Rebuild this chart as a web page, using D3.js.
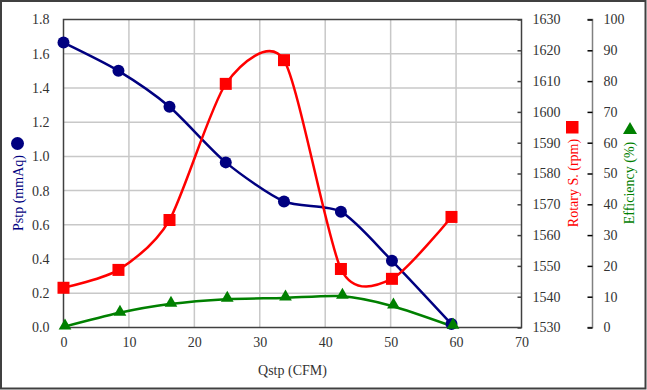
<!DOCTYPE html>
<html>
<head>
<meta charset="utf-8">
<script src="https://cdn.jsdelivr.net/npm/d3@7"></script>
<style>
  html, body { margin: 0; padding: 0; background: #fff; }
  svg { display: block; }
  text { font-family: "Liberation Serif", "DejaVu Serif", serif; }
</style>
</head>
<body>
<svg id="chart" width="647" height="390"></svg>
<script>
// ---- data ----
const qstp = [0, 8.4, 16.2, 24.8, 33.7, 42.4, 50.2, 59.3];
const pstp = [1.665, 1.50, 1.29, 0.965, 0.737, 0.677, 0.39, 0.02];
const rpm = [1542.9, 1548.7, 1564.9, 1609.1, 1616.8, 1549.0, 1545.8, 1565.9];
const eff = [0.2, 4.7, 7.6, 9.2, 9.6, 10.2, 7.0, 0.5];

const xTicks = [0, 10, 20, 30, 40, 50, 60, 70];
const pTicks = [0, 0.2, 0.4, 0.6, 0.8, 1.0, 1.2, 1.4, 1.6, 1.8];
const rTicks = [1530, 1540, 1550, 1560, 1570, 1580, 1590, 1600, 1610, 1620, 1630];
const eTicks = [0, 10, 20, 30, 40, 50, 60, 70, 80, 90, 100];

const W = 647, H = 390;
const L = 63.5, R = 521.5, T = 19.5, B = 327.5;
const axis2X = 592.5;
const FONT = "Liberation Serif";

const svg = d3.select("#chart");

// outer border
svg.append("rect").attr("x", 1).attr("y", 1).attr("width", W - 2.5).attr("height", H - 2.5)
  .attr("fill", "#fff").attr("stroke", "#404040").attr("stroke-width", 2);

const x = d3.scaleLinear().domain([0, 70]).range([L, R]);
const yP = d3.scaleLinear().domain([0, 1.8]).range([B, T]);
const yR = d3.scaleLinear().domain([1530, 1630]).range([B, T]);
const yE = d3.scaleLinear().domain([0, 100]).range([B, T]);

const fontSize = 14;

// gridlines
const grid = svg.append("g");
grid.selectAll("line.h").data(pTicks.slice(1, -1)).join("line")
  .attr("x1", L).attr("x2", R).attr("y1", d => yP(d)).attr("y2", d => yP(d))
  .attr("stroke", "#c8c8c8").attr("stroke-width", 1.5);
grid.selectAll("line.v").data(xTicks.slice(1, -1)).join("line")
  .attr("y1", T).attr("y2", B).attr("x1", d => x(d)).attr("x2", d => x(d))
  .attr("stroke", "#c8c8c8").attr("stroke-width", 1.5);

// plot frame
svg.append("rect").attr("x", L).attr("y", T).attr("width", R - L).attr("height", B - T)
  .attr("fill", "none").attr("stroke", "#404040").attr("stroke-width", 1.5);

function styleText(g) {
  g.attr("font-family", FONT);
  g.selectAll("text").attr("font-size", fontSize).attr("fill", "#333").style("font-family", FONT);
}

// x axis
const gx = svg.append("g").attr("transform", `translate(0,${B})`)
  .call(d3.axisBottom(x).tickValues(xTicks).tickSize(0).tickPadding(10).tickFormat(d3.format("d")));
gx.select(".domain").remove();
styleText(gx);

// left axis
const gy = svg.append("g").attr("transform", `translate(${L},0)`)
  .call(d3.axisLeft(yP).tickValues(pTicks).tickSize(0).tickPadding(14).tickFormat(d3.format(".1f")));
gy.select(".domain").remove();
styleText(gy);

// right axis 1 (rpm): inward ticks on plot right edge
const gr = svg.append("g").attr("transform", `translate(${R},0)`)
  .call(d3.axisRight(yR).tickValues(rTicks).tickSizeInner(-4).tickSizeOuter(0).tickPadding(11).tickFormat(d3.format("d")));
gr.select(".domain").remove();
gr.selectAll("line").attr("stroke", "#404040").attr("stroke-width", 1.5);
styleText(gr);

// right axis 2 (efficiency)
const ge = svg.append("g").attr("transform", `translate(${axis2X},0)`)
  .call(d3.axisRight(yE).tickValues(eTicks).tickSizeInner(-5).tickSizeOuter(0).tickPadding(11).tickFormat(d3.format("d")));
ge.select(".domain").attr("stroke", "#808080").attr("stroke-width", 1.5).attr("d", `M-5,${T}H0V${B}H-5`);
ge.selectAll(".tick line").attr("stroke", "#000").attr("stroke-width", 1.5);
styleText(ge);

// axis titles
svg.append("text").attr("x", x(35)).attr("y", 375).attr("text-anchor", "middle")
  .attr("font-size", fontSize).attr("fill", "#333").text("Qstp (CFM)");

svg.append("text").attr("transform", "translate(22.5,193) rotate(-90)").attr("text-anchor", "middle")
  .attr("font-size", fontSize).attr("fill", "#000080").text("Pstp (mmAq)");
svg.append("circle").attr("cx", 17.5).attr("cy", 143.5).attr("r", 6.5).attr("fill", "#000080");

svg.append("text").attr("transform", "translate(577.5,183) rotate(-90)").attr("text-anchor", "middle")
  .attr("font-size", fontSize).attr("fill", "#ff0000").text("Rotary S. (rpm)");
svg.append("rect").attr("x", 566).attr("y", 121).attr("width", 12.5).attr("height", 12.5).attr("fill", "#ff0000");

svg.append("text").attr("transform", "translate(634,183) rotate(-90)").attr("text-anchor", "middle")
  .attr("font-size", fontSize).attr("fill", "#008000").text("Efficiency (%)");
svg.append("path").attr("d", d3.symbol(d3.symbolTriangle, 85)()).attr("transform", "translate(630,130)")
  .attr("fill", "#008000");

// series
const curve = d3.curveCardinal.tension(0.25);
const ptsP = qstp.map((q, i) => [q, pstp[i]]);
const ptsR = qstp.map((q, i) => [q, rpm[i]]);
const ptsE = qstp.map((q, i) => [q, eff[i]]);

const series = svg.append("g");
series.append("path").datum(ptsP)
  .attr("d", d3.line().x(d => x(d[0])).y(d => yP(d[1])).curve(curve))
  .attr("fill", "none").attr("stroke", "#000080").attr("stroke-width", 2.5);
series.append("path").datum(ptsR)
  .attr("d", d3.line().x(d => x(d[0])).y(d => yR(d[1])).curve(curve))
  .attr("fill", "none").attr("stroke", "#ff0000").attr("stroke-width", 2.5);
series.append("path").datum(ptsE)
  .attr("d", d3.line().x(d => x(d[0])).y(d => yE(d[1])).curve(curve))
  .attr("fill", "none").attr("stroke", "#008000").attr("stroke-width", 2.5);

series.selectAll("circle.p").data(ptsP).join("circle")
  .attr("cx", d => x(d[0])).attr("cy", d => yP(d[1])).attr("r", 6).attr("fill", "#000080");
series.selectAll("rect.r").data(ptsR).join("rect")
  .attr("x", d => x(d[0]) - 6).attr("y", d => yR(d[1]) - 6).attr("width", 12).attr("height", 12).attr("fill", "#ff0000");
series.selectAll("path.e").data(ptsE).join("path")
  .attr("d", d3.symbol(d3.symbolTriangle, 70)())
  .attr("transform", d => `translate(${x(d[0]) + 1.5},${yE(d[1]) - 1})`).attr("fill", "#008000");
</script>
</body>
</html>
